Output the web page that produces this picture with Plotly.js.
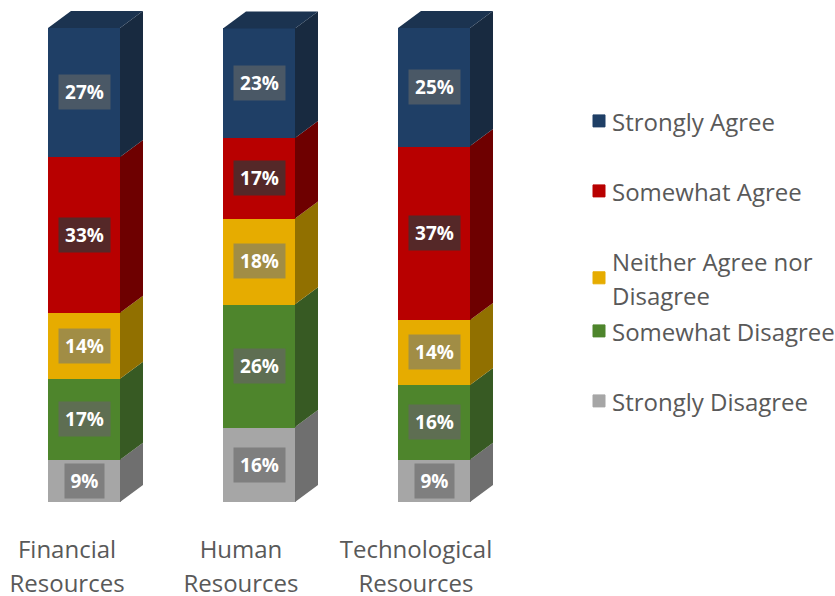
<!DOCTYPE html>
<html>
<head>
<meta charset="utf-8">
<script src="https://cdn.plot.ly/plotly-3.0.1.min.js"></script>
<style>html,body{margin:0;padding:0;background:#fff}#chart{width:835px;height:596px}</style>
</head>
<body>
<div id="chart"></div>
<script>
var categories = ['Financial<br>Resources', 'Human<br>Resources', 'Technological<br>Resources'];
var stronglyDisagree = [8.9, 15.8, 8.9];
var somewhatDisagree = [17.1, 25.9, 15.8];
var neitherAgree = [13.9, 18.1, 13.7];
var somewhatAgree = [32.9, 17.0, 36.7];
var stronglyAgree = [27.2, 23.1, 24.9];

var seriesNames = ['Strongly Disagree', 'Somewhat Disagree', 'Neither Agree nor<br>Disagree', 'Somewhat Agree', 'Strongly Agree'];
var seriesValues = [stronglyDisagree, somewhatDisagree, neitherAgree, somewhatAgree, stronglyAgree];
var frontColors = ['#a6a6a6', '#4e852c', '#e6ac00', '#b80000', '#1f3f66'];
var sideColors = ['#6f6f6f', '#375a23', '#917000', '#6e0000', '#182a40'];
var labelBoxColors = ['#7f7f7f', '#5e6e52', '#a18d45', '#552828', '#4a5866'];
var topColor = '#1b3350';
var legendIds = ['legend5', 'legend4', 'legend3', 'legend2', 'legend'];
var legendY = [401, 331, 278, 191, 121];

var W = 835, H = 596, plotW = 560, plotH = 502;
var pxPerX = 175, pxPerY = 4.74;
var barWidth = 72 / pxPerX, depthX = 23 / pxPerX, depthY = 17 / pxPerY;
var barX = [0, 1, 2];
var tickX = [-0.097, 0.897, 1.897];
var textFont = 'Open Sans, Noto Sans, sans-serif';

function sized(t) {
  return t.split('<br>').map(function (p) { return '<span style="font-size:24px">' + p + '</span>'; }).join('<br>');
}

var traces = [], annotations = [], legends = {};

seriesNames.forEach(function (name, s) {
  traces.push({
    type: 'bar', x: barX, y: seriesValues[s], name: sized(name),
    width: barWidth, marker: {color: frontColors[s], line: {width: 1, color: frontColors[s]}},
    legend: legendIds[s], hoverinfo: 'skip'
  });
  legends[legendIds[s]] = {
    x: 572 / plotW, xanchor: 'left', y: 1 - legendY[s] / plotH, yanchor: 'middle',
    bgcolor: 'rgba(0,0,0,0)', borderwidth: 0, itemclick: false, itemdoubleclick: false,
    font: {family: textFont, size: 26, color: '#595959'}, itemwidth: 30
  };
});

barX.forEach(function (x0, c) {
  var base = 0, r = x0 + barWidth / 2, lft = x0 - barWidth / 2;
  seriesValues.forEach(function (vals, s) {
    var v = vals[c], y0 = base, y1 = base + v, label = Math.round(v) + '%';
    traces.push({
      type: 'scatter', mode: 'lines', fill: 'toself', fillcolor: sideColors[s],
      x: [r, r + depthX, r + depthX, r, r], y: [y0, y0 + depthY, y1 + depthY, y1, y0],
      line: {width: 0, color: sideColors[s]}, showlegend: false, hoverinfo: 'skip'
    });
    annotations.push({
      x: x0, y: (y0 + y1) / 2, xref: 'x', yref: 'y', showarrow: false,
      text: '<b>' + label + '</b>', width: label.length === 3 ? 41 : 29, height: 24,
      font: {family: 'Open Sans, sans-serif', size: 19, color: '#ffffff'},
      bgcolor: labelBoxColors[s], borderpad: 5
    });
    base = y1;
  });
  traces.push({
    type: 'scatter', mode: 'lines', fill: 'toself', fillcolor: topColor,
    x: [lft, lft + depthX, r + depthX, r, lft], y: [base, base + depthY, base + depthY, base, base],
    line: {width: 0, color: topColor}, showlegend: false, hoverinfo: 'skip'
  });
});

var layout = Object.assign({
  width: W, height: H, barmode: 'stack', showlegend: true,
  paper_bgcolor: '#ffffff', plot_bgcolor: '#ffffff',
  margin: {l: 0, r: W - plotW, t: 0, b: H - plotH, autoexpand: false},
  xaxis: {
    range: [-84 / pxPerX, (plotW - 84) / pxPerX], tickmode: 'array', tickvals: tickX,
    ticktext: categories.map(sized),
    tickangle: 0, showgrid: false, zeroline: false, showline: false,
    ticks: 'outside', ticklen: 24, tickcolor: 'rgba(0,0,0,0)',
    tickfont: {family: textFont, size: 26, color: '#595959'}
  },
  yaxis: {range: [0, plotH / pxPerY], showgrid: false, zeroline: false, showline: false, showticklabels: false, ticks: ''},
  annotations: annotations
}, legends);

Plotly.newPlot('chart', traces, layout, {displayModeBar: false}).then(function () {
  document.querySelectorAll('.legendsymbols').forEach(function (g) {
    g.setAttribute('transform', 'translate(7,0)');
  });
});
</script>
</body>
</html>
